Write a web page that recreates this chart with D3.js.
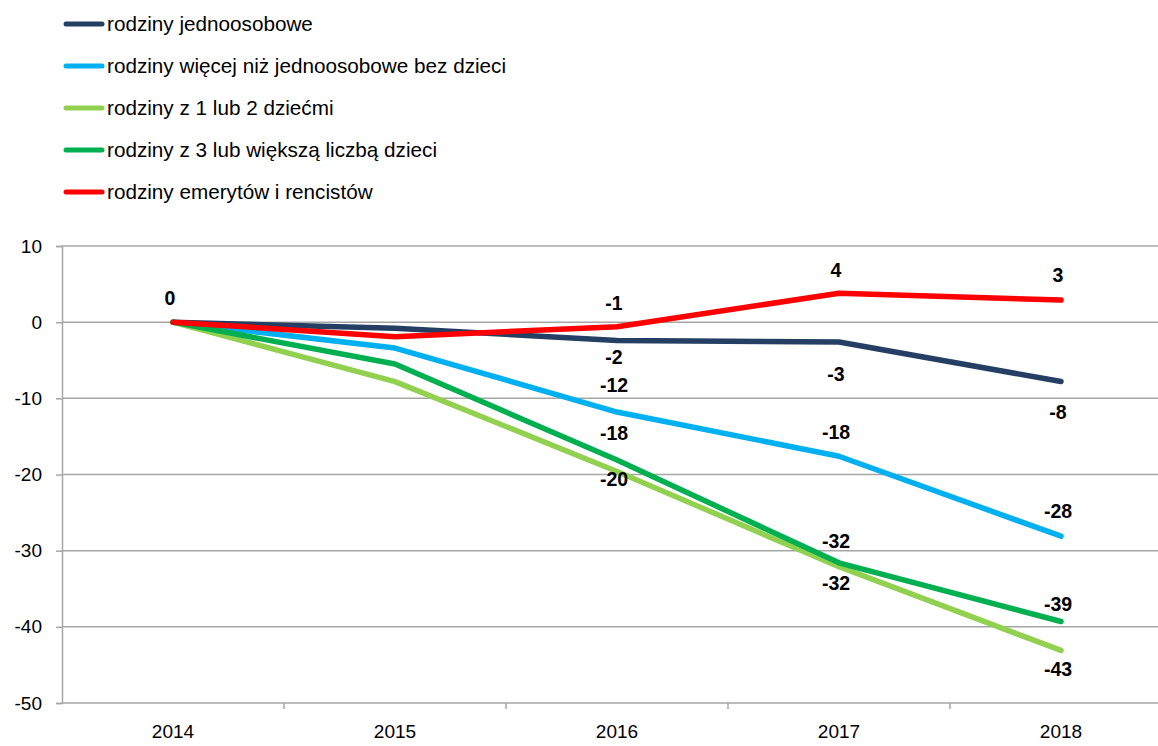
<!DOCTYPE html>
<html>
<head>
<meta charset="utf-8">
<script src="https://cdn.jsdelivr.net/npm/d3@7"></script>
<style>
  body { margin: 0; background: #fff; }
  text { font-family: "Liberation Sans", Arial, sans-serif; }
</style>
</head>
<body>
<div class="chart"></div>
<script>
const width = 1158;
const height = 746;

// data
const years = ['2014', '2015', '2016', '2017', '2018'];
const seriesNames = [
  'rodziny jednoosobowe',
  'rodziny więcej niż jednoosobowe bez dzieci',
  'rodziny z 1 lub 2 dziećmi',
  'rodziny z 3 lub większą liczbą dzieci',
  'rodziny emerytów i rencistów'
];
const jednoosobowe = [0, -0.8, -2.4, -2.6, -7.8];
const bezDzieci = [0, -3.4, -11.8, -17.6, -28.1];
const zDziecmi12 = [0, -7.8, -19.6, -32.1, -43.1];
const zDziecmi3 = [0, -5.5, -18.1, -31.6, -39.3];
const emeryci = [0, -1.9, -0.6, 3.8, 2.9];
const yTicks = [10, 0, -10, -20, -30, -40, -50];

const colors = ['#243F63', '#00B0F0', '#92D050', '#00B050', '#FF0000'];
const allSeries = [jednoosobowe, bezDzieci, zDziecmi12, zDziecmi3, emeryci];

// which points get a value label and how far from the line (px), null = no label
const labelDy = [
  [null, null, 17, 32, 31],
  [null, null, -27, -24, -25],
  [null, null, 8, 17, 19],
  [null, null, -27, -22, -17],
  [-24, null, -24, -23, -25]
];

const margin = {left: 62, top: 246, right: 0, bottom: 43};

const svg = d3.select('.chart')
  .append('svg')
  .attr('width', width)
  .attr('height', height);

const x = d3.scaleBand()
  .domain(years)
  .range([margin.left, margin.left + 222 * 5]);

const y = d3.scaleLinear()
  .domain([-50, 10])
  .range([703, 246]);

// gridlines
svg.selectAll('.grid')
  .data(yTicks)
  .enter()
  .append('line')
  .attr('x1', margin.left)
  .attr('x2', width)
  .attr('y1', d => y(d))
  .attr('y2', d => y(d))
  .attr('stroke', '#A6A6A6')
  .attr('stroke-width', 1.5);

// y axis
const yAxis = svg.append('g')
  .attr('transform', 'translate(' + margin.left + ',0)')
  .call(d3.axisLeft(y).tickValues(yTicks).tickSize(6).tickPadding(14).tickFormat(d => String(d)));
yAxis.select('.domain').attr('stroke', '#A6A6A6').attr('stroke-width', 1.5);
yAxis.selectAll('.tick line').attr('stroke', '#A6A6A6').attr('stroke-width', 1.5);
yAxis.selectAll('.tick text')
  .attr('font-size', 19)
  .attr('fill', '#000')
  .attr('font-family', '"Liberation Sans", Arial, sans-serif');

// x axis
const xAxis = svg.append('g')
  .attr('transform', 'translate(0,' + y(-50) + ')')
  .call(d3.axisBottom(x).tickSize(0).tickPadding(22));
xAxis.select('.domain').remove();
xAxis.selectAll('.tick text')
  .attr('font-size', 19)
  .attr('fill', '#000')
  .attr('font-family', '"Liberation Sans", Arial, sans-serif');

// tick marks between categories
svg.selectAll('.xtick')
  .data(years.slice(1))
  .enter()
  .append('line')
  .attr('x1', d => x(d))
  .attr('x2', d => x(d))
  .attr('y1', y(-50))
  .attr('y2', y(-50) + 6)
  .attr('stroke', '#A6A6A6')
  .attr('stroke-width', 1.5);

const line = d3.line()
  .x((d, i) => x(years[i]) + x.bandwidth() / 2)
  .y(d => y(d));

allSeries.forEach((vals, s) => {
  svg.append('path')
    .datum(vals)
    .attr('d', line)
    .attr('fill', 'none')
    .attr('stroke', colors[s])
    .attr('stroke-width', 5.5)
    .attr('stroke-linecap', 'round')
    .attr('stroke-linejoin', 'round');
});

// value labels
allSeries.forEach((vals, s) => {
  vals.forEach((v, i) => {
    const dy = labelDy[s][i];
    if (dy === null) return;
    const r = Math.round(v);
    svg.append('text')
      .attr('x', x(years[i]) + x.bandwidth() / 2 - 3)
      .attr('y', y(v) + dy)
      .attr('dy', '0.35em')
      .attr('text-anchor', 'middle')
      .attr('font-size', 19.5)
      .attr('font-weight', 'bold')
      .attr('fill', '#000')
      .text(r === 0 ? '0' : String(r));
  });
});

// legend
const legend = svg.selectAll('.legend')
  .data(seriesNames)
  .enter()
  .append('g')
  .attr('transform', (d, i) => 'translate(66,' + (24 + i * 42) + ')');

legend.append('line')
  .attr('x1', 0)
  .attr('x2', 36)
  .attr('stroke', (d, i) => colors[i])
  .attr('stroke-width', 5)
  .attr('stroke-linecap', 'round');

legend.append('text')
  .attr('x', 41)
  .attr('dy', '0.35em')
  .attr('font-size', 20.7)
  .attr('fill', '#000')
  .text(d => d);
</script>
</body>
</html>
